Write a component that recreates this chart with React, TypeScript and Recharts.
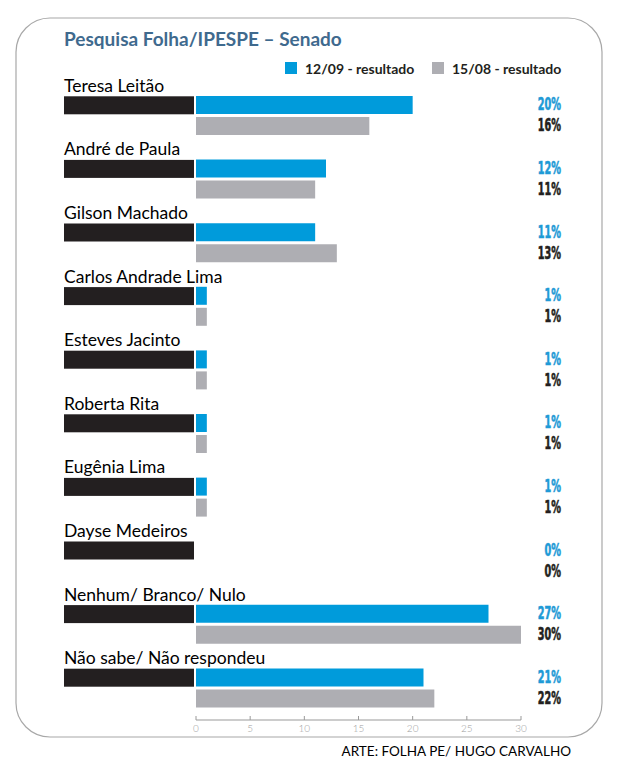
import React from 'react';
import { BarChart, Bar, XAxis, YAxis } from 'recharts';

const categories = [
  'Teresa Leitão',
  'André de Paula',
  'Gilson Machado',
  'Carlos Andrade Lima',
  'Esteves Jacinto',
  'Roberta Rita',
  'Eugênia Lima',
  'Dayse Medeiros',
  'Nenhum/ Branco/ Nulo',
  'Não sabe/ Não respondeu',
];
const sep12 = [20, 12, 11, 1, 1, 1, 1, 0, 27, 21];
const aug15 = [16, 11, 13, 1, 1, 1, 1, 0, 30, 22];
const xTicks = [0, 5, 10, 15, 20, 25, 30];
const seriesNames = ['12/09 - resultado', '15/08 - resultado'];
const title = 'Pesquisa Folha/IPESPE – Senado';
const credit = 'ARTE: FOLHA PE/ HUGO CARVALHO';

const BLUE = '#009BDB';
const GRAY = '#AEAEB3';
const BLACK = '#231F20';
const TITLE = '#3F6A8E';
const FONT = "Lato, 'Open Sans', sans-serif";
const NUMFONT = "'Liberation Sans Narrow', 'DejaVu Sans Condensed', 'Liberation Sans', sans-serif";

const data = categories.map((name, i) => ({ name, sep: sep12[i], aug: aug15[i] }));

const NameTick = (props: any) => {
  const { y, payload } = props;
  return (
    <g>
      <text x={64} y={y - 24} fontFamily={FONT} fontSize={17.5} fill="#000">
        {payload.value}
      </text>
      <rect x={64} y={y - 19.5} width={130} height={18} fill={BLACK} />
    </g>
  );
};

const ValueTick = (props: any) => {
  const { y, index } = props;
  const d = data[index];
  if (!d) return null;
  const xr = 561;
  return (
    <g>
      <g transform={`translate(${xr},${y - 5.5}) scale(0.6,1)`}>
        <text x={0} y={0} textAnchor="end" fontFamily={NUMFONT} fontWeight={900} fontSize={18} fill="#1E9AD6" stroke="#1E9AD6" strokeWidth={0.6}>
          {d.sep}%
        </text>
      </g>
      <g transform={`translate(${xr},${y + 15.5}) scale(0.6,1)`}>
        <text x={0} y={0} textAnchor="end" fontFamily={NUMFONT} fontWeight={900} fontSize={18} fill={BLACK} stroke={BLACK} strokeWidth={0.6}>
          {d.aug}%
        </text>
      </g>
    </g>
  );
};

const XTick = (props: any) => {
  const { x, y, payload } = props;
  return (
    <g>
      <line x1={x} x2={x} y1={y - 4} y2={y} stroke="#999" strokeWidth={1} />
      <text x={x} y={y + 12} textAnchor="middle" fontFamily={FONT} fontWeight={300} fontSize={10} fill="#A0A0A0">
        {payload.value}
      </text>
    </g>
  );
};

export default function App() {
  return (
    <div style={{ position: 'absolute', left: 0, top: 0, width: 620, height: 766, background: '#fff' }}>
      <svg width={620} height={766} style={{ position: 'absolute', left: 0, top: 0 }}>
        <rect x={16} y={18} width={586} height={719} rx={34} ry={34} fill="#fff" stroke="#A8A8A8" strokeWidth={1.2} />
        <text x={64} y={46} fontFamily={FONT} fontWeight={700} fontSize={19} fill={TITLE}>
          {title}
        </text>
        <rect x={285} y={62} width={12} height={12} fill={BLUE} />
        <text x={305} y={73.5} fontFamily={FONT} fontWeight={700} fontSize={14} fill={BLACK}>
          {seriesNames[0]}
        </text>
        <rect x={432} y={62} width={12} height={12} fill={GRAY} />
        <text x={452} y={73.5} fontFamily={FONT} fontWeight={700} fontSize={14} fill={BLACK}>
          {seriesNames[1]}
        </text>
        <text x={571} y={756} textAnchor="end" fontFamily={FONT} fontSize={13.5} fill="#000">
          {credit}
        </text>
      </svg>
      <div style={{ position: 'absolute', left: 0, top: 0 }}>
        <BarChart
          width={620}
          height={766}
          data={data}
          layout="vertical"
          margin={{ top: 84, right: 0, bottom: 26, left: 64 }}
          barSize={18}
          barGap={3}
        >
          <XAxis
            type="number"
            domain={[0, 30]}
            ticks={xTicks}
            interval={0}
            height={20}
            axisLine={{ stroke: '#999' }}
            tickLine={false}
            tickSize={0}
            tickMargin={0}
            tick={<XTick />}
          />
          <YAxis
            yAxisId="left"
            type="category"
            dataKey="name"
            width={132}
            axisLine={false}
            tickLine={false}
            interval={0}
            tick={<NameTick />}
          />
          <YAxis
            yAxisId="right"
            orientation="right"
            type="category"
            dataKey="name"
            width={99}
            axisLine={false}
            tickLine={false}
            interval={0}
            tick={<ValueTick />}
          />
          <Bar yAxisId="left" dataKey="sep" name={seriesNames[0]} fill={BLUE} isAnimationActive={false} />
          <Bar yAxisId="left" dataKey="aug" name={seriesNames[1]} fill={GRAY} isAnimationActive={false} />
        </BarChart>
      </div>
    </div>
  );
}
